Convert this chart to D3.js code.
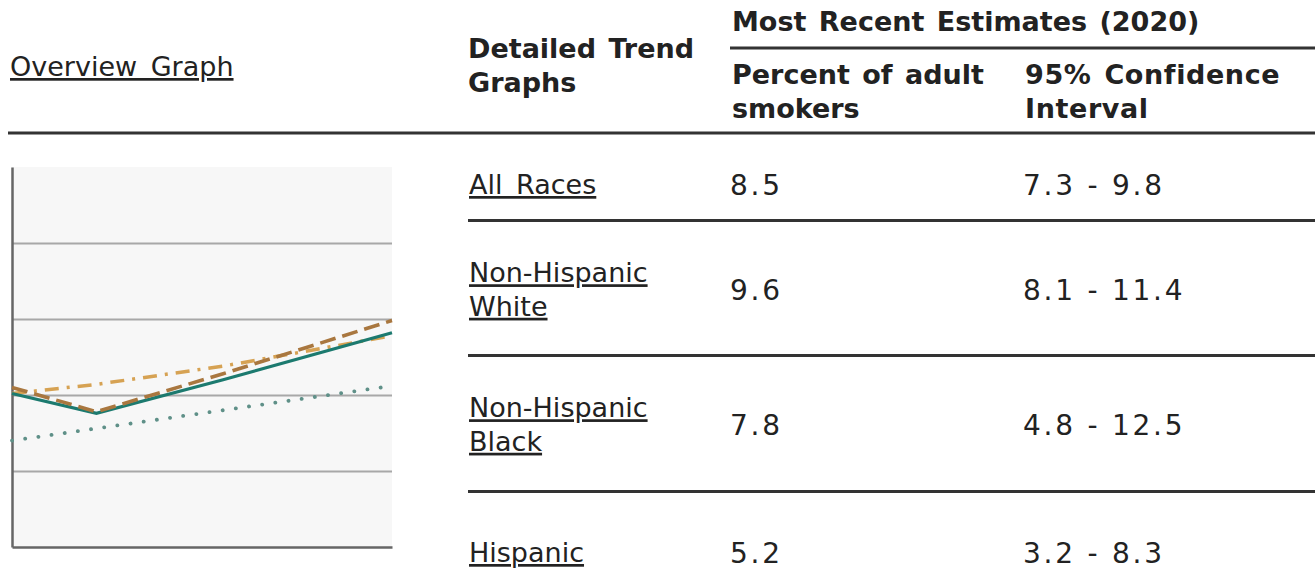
<!DOCTYPE html>
<html>
<head>
<meta charset="utf-8">
<script src="https://cdn.jsdelivr.net/npm/d3@7"></script>
<style>
  html, body { margin: 0; padding: 0; background: #ffffff; }
  svg { display: block; }
  text { font-family: "DejaVu Sans", Verdana, sans-serif; fill: #222; }
</style>
</head>
<body>
<svg id="chart" width="1315" height="573"></svg>
<script>
// ---------- data ----------
const groups = ["All Races", "Non-Hispanic White", "Non-Hispanic Black", "Hispanic"];
const groupLines = [["All Races"], ["Non-Hispanic", "White"], ["Non-Hispanic", "Black"], ["Hispanic"]];
const percentSmokers = ["8.5", "9.6", "7.8", "5.2"];
const ciLow = ["7.3", "8.1", "4.8", "3.2"];
const ciHigh = ["9.8", "11.4", "12.5", "8.3"];

// thumbnail trend graph (arbitrary units)
const years = [2011, 2013, 2016, 2020];
const allRaces = [10.1, 8.8, 11.0, 14.1];
const nhWhite = [10.5, 8.9, 11.4, 14.9];
const nhBlack = [10.1, 10.7, 11.9, 13.9];
const hispanic = [7.0, 7.8, 9.0, 10.6];
const yTicks = [0, 5, 10, 15, 20, 25];

// ---------- drawing ----------
const svg = d3.select("#chart");

// thumbnail chart
const plot = { left: 12, right: 392, top: 167, bottom: 547 };
const x = d3.scaleLinear().domain([2011, 2020]).range([plot.left, plot.right]);
const y = d3.scaleLinear().domain([0, 25]).range([plot.bottom, plot.top]);

svg.append("rect")
  .attr("x", plot.left).attr("y", plot.top)
  .attr("width", plot.right - plot.left).attr("height", plot.bottom - plot.top)
  .attr("fill", "#f7f7f7");

const grid = svg.append("g")
  .attr("transform", `translate(${plot.left},0)`)
  .call(d3.axisLeft(y).tickValues(yTicks.slice(1, -1)).tickSize(-(plot.right - plot.left)).tickFormat(""));
grid.select(".domain").remove();
grid.selectAll(".tick line").attr("stroke", "#a8a8a8").attr("stroke-width", 2);

// axes
const yAxis = svg.append("g")
  .attr("transform", `translate(${plot.left},0)`)
  .call(d3.axisLeft(y).tickValues([]).tickSizeOuter(0));
yAxis.select(".domain").attr("stroke", "#666").attr("stroke-width", 2.5);
const xAxis = svg.append("g")
  .attr("transform", `translate(0,${plot.bottom})`)
  .call(d3.axisBottom(x).tickValues([]).tickSizeOuter(0));
xAxis.select(".domain").attr("stroke", "#666").attr("stroke-width", 2.5);

const seriesDefs = [
  { vals: hispanic, color: "#5f9088", width: 3.8, dash: "0.1,13.2", cap: "round" },
  { vals: nhBlack, color: "#d6a253", width: 3.5, dash: "14,8,3,8", cap: "butt" },
  { vals: allRaces, color: "#1c7a6f", width: 3.2, dash: null, cap: "butt" },
  { vals: nhWhite, color: "#a9773f", width: 3.6, dash: "16,7", cap: "butt" }
];
const line = d3.line().x(d => x(d[0])).y(d => y(d[1]));
seriesDefs.forEach(s => {
  svg.append("path")
    .datum(years.map((yr, i) => [yr, s.vals[i]]))
    .attr("d", line)
    .attr("fill", "none")
    .attr("stroke", s.color)
    .attr("stroke-width", s.width)
    .attr("stroke-linecap", s.cap)
    .attr("stroke-dasharray", s.dash);
});

// ---------- table ----------
const col1 = 8, col2 = 468, col3 = 730, col4 = 1023;
const linkSize = 27, numSize = 28, headSize = 27;

function rule(x1, x2, yy) {
  svg.append("line").attr("x1", x1).attr("x2", x2).attr("y1", yy).attr("y2", yy)
    .attr("stroke", "#333").attr("stroke-width", 3);
}

function txt(str, xx, yy, opts) {
  const t = svg.append("text")
    .attr("x", xx).attr("y", yy)
    .attr("font-size", opts.size)
    .attr("font-weight", opts.bold ? "bold" : "normal")
    .style("white-space", "pre")
    .text(str);
  if (opts.ls) t.attr("letter-spacing", opts.ls);
  if (opts.ws) t.attr("word-spacing", opts.ws);
  if (opts.underline) t.attr("text-decoration", "underline");
  return t;
}

// header
txt("Overview Graph", col1 + 2, 76, { size: linkSize, underline: true, ws: 5 });
txt("Detailed Trend", col2, 58, { size: headSize, bold: true, ws: 3 });
txt("Graphs", col2, 92, { size: headSize, bold: true });
txt("Most Recent Estimates (2020)", col3 + 2, 31, { size: headSize, bold: true, ws: 3 });
rule(col3, 1315, 48);
txt("Percent of adult", col3 + 2, 84, { size: headSize, bold: true, ws: 3 });
txt("smokers", col3 + 2, 118, { size: headSize, bold: true });
txt("95% Confidence", col4 + 2, 84, { size: headSize, bold: true, ws: 3, ls: 0.6 });
txt("Interval", col4 + 2, 118, { size: headSize, bold: true, ls: 0.6 });
rule(col1, 1315, 133);

// rows
const rowMid = [184, 289, 424, 552];
const rowRules = [220.5, 355.5, 491.5];
groups.forEach((g, i) => {
  const lines = groupLines[i];
  const lh = 33.5;
  const base0 = rowMid[i] + 10 - (lines.length - 1) * lh / 2;
  lines.forEach((l, j) => {
    txt(l, col2 + 1, base0 + j * lh, { size: linkSize, underline: true, ws: 5 });
  });
  txt(percentSmokers[i], col3, rowMid[i] + 11, { size: numSize, ls: 2.75 });
  txt(ciLow[i] + " - " + ciHigh[i], col4, rowMid[i] + 11, { size: numSize, ls: 2.75 });
  if (i < rowRules.length) rule(col2, 1315, rowRules[i]);
});
</script>
</body>
</html>
